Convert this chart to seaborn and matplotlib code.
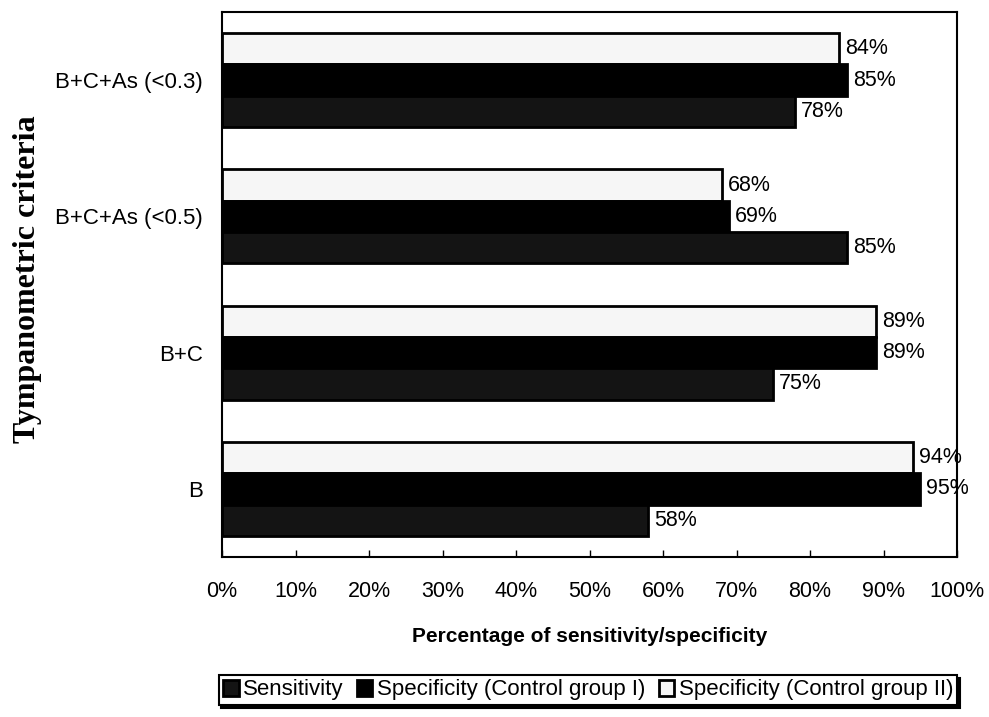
import numpy as np
import pandas as pd
import matplotlib
matplotlib.use("Agg")
import matplotlib.pyplot as plt
import seaborn as sns

criteria = ["B+C+As (<0.3)", "B+C+As (<0.5)", "B+C", "B"]
sensitivity = [78, 85, 75, 58]
spec_group1 = [85, 69, 89, 95]
spec_group2 = [84, 68, 89, 94]
series_names = ["Sensitivity", "Specificity (Control group I)", "Specificity (Control group II)"]
ticks = list(range(0, 101, 10))
tick_labels = [f"{t}%" for t in ticks]

sns.set_style("white")
plt.rcParams['font.family'] = ['Liberation Sans', 'DejaVu Sans']
for key in ["text.color", "axes.labelcolor", "xtick.color", "ytick.color"]:
    plt.rcParams[key] = "black"

df = pd.DataFrame({
    "criteria": criteria * 3,
    "value": sensitivity + spec_group1 + spec_group2,
    "series": [series_names[0]] * 4 + [series_names[1]] * 4 + [series_names[2]] * 4,
})

# top to bottom inside each group: group II, group I, sensitivity
hue_order = [series_names[2], series_names[1], series_names[0]]
palette = {series_names[0]: "#141414", series_names[1]: "#000000", series_names[2]: "#f6f6f6"}

fig = plt.figure(figsize=(9.89, 7.17), dpi=100)
ax = fig.add_axes([0.2245, 0.2232, 0.7432, 0.7601])

sns.barplot(data=df, x="value", y="criteria", hue="series", order=criteria,
            hue_order=hue_order, palette=palette, orient="h", width=0.69,
            edgecolor="black", linewidth=2, ax=ax)

for cont in ax.containers:
    for bar in cont:
        w = bar.get_width()
        ax.text(w + 0.8, bar.get_y() + bar.get_height() / 2, f"{w:.0f}%",
                va="center", ha="left", fontsize=15.5, color="black")

ax.set_xlim(0, 100)
ax.set_xticks(ticks)
ax.set_xticklabels(tick_labels, fontsize=15.5)
ax.tick_params(axis="x", direction="in", length=5, width=1, pad=17, bottom=True)
ax.tick_params(axis="y", length=0, pad=14, labelsize=16)
for s in ax.spines.values():
    s.set_color("black")
    s.set_linewidth(1.5)

ax.set_xlabel("Percentage of sensitivity/specificity", fontsize=15, fontweight="bold", labelpad=18)
ax.set_ylabel("Tympanometric criteria", fontsize=23, fontweight="bold",
              family=["Liberation Serif", "DejaVu Serif"])
ax.yaxis.set_label_coords(-0.245, 0.51)

handles, labels = ax.get_legend_handles_labels()
ax.get_legend().remove()
lookup = dict(zip(labels, handles))
leg = fig.legend([lookup[n] for n in series_names], series_names, loc="center",
                 bbox_to_anchor=(588 / 989, 1 - 690 / 717), ncol=3, fontsize=16,
                 frameon=True, fancybox=False, shadow={"color": "black", "alpha": 1},
                 handlelength=0.7, handletextpad=0.2, columnspacing=0.6, borderpad=0.2)
leg.get_frame().set_edgecolor("black")
leg.get_frame().set_linewidth(1.5)
leg.get_frame().set_facecolor("white")
leg.get_frame().set_alpha(1)

fig.savefig("out.png", dpi=100)
